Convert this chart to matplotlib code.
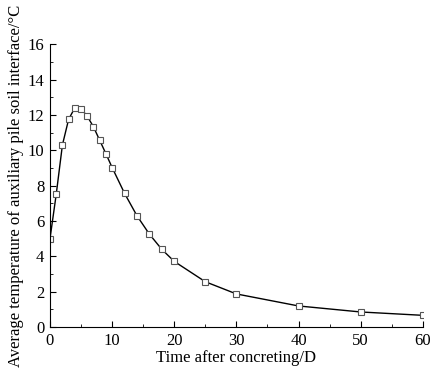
import matplotlib
matplotlib.use('Agg')
import matplotlib.pyplot as plt
from matplotlib.ticker import MultipleLocator

# Data
days = [0, 1, 2, 3, 4, 5, 6, 7, 8, 9, 10, 12, 14, 16, 18, 20, 25, 30, 40, 50, 60]
temperature = [5.0, 7.5, 10.3, 11.75, 12.4, 12.35, 11.92, 11.32, 10.56, 9.8, 9.02,
               7.56, 6.29, 5.25, 4.39, 3.71, 2.56, 1.87, 1.19, 0.85, 0.66]

plt.rcParams['font.family'] = 'Liberation Serif'

fig = plt.figure(figsize=(4.31, 3.71), dpi=100)
ax = fig.add_axes([0.116, 0.1186, 0.865, 0.7624])

ax.plot(days, temperature, '-', color='black', linewidth=1.0,
        marker='s', markersize=4.5, markerfacecolor='white',
        markeredgecolor='#555555', markeredgewidth=0.8)

ax.set_xlim(0, 60)
ax.set_ylim(0, 16)
ax.xaxis.set_major_locator(MultipleLocator(10))
ax.xaxis.set_minor_locator(MultipleLocator(5))
ax.yaxis.set_major_locator(MultipleLocator(2))
ax.yaxis.set_minor_locator(MultipleLocator(1))

ax.spines['top'].set_visible(False)
ax.spines['right'].set_visible(False)
ax.tick_params(which='both', direction='in', labelsize=12)
ax.tick_params(which='major', length=4, pad=4)
ax.tick_params(which='minor', length=2.5)

ax.set_xlabel('Time after concreting/D', fontsize=12, labelpad=1)
ax.set_ylabel('Average temperature of auxiliary pile soil interface/°C', fontsize=12, labelpad=3)

fig.savefig('out.png', dpi=100)
